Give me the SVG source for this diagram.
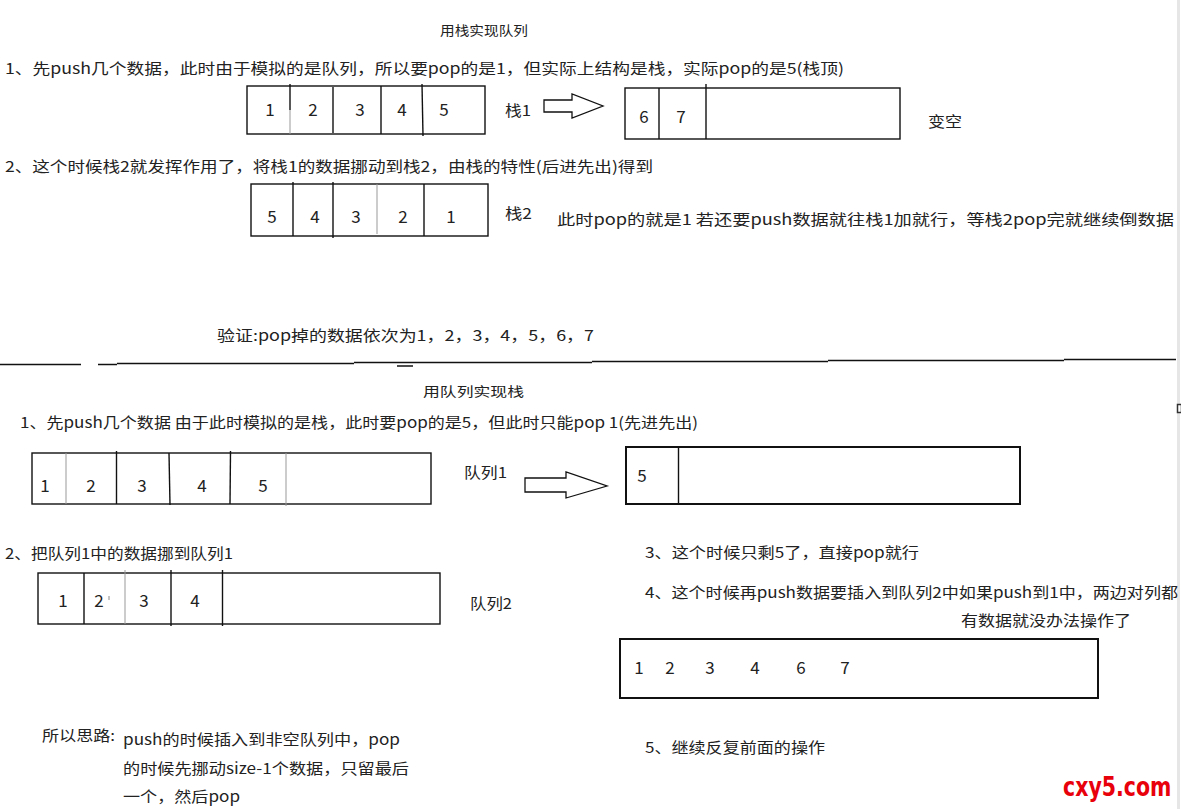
<svg xmlns="http://www.w3.org/2000/svg" width="1181" height="809" viewBox="0 0 1181 809">
<style>
.t{font-family:'Noto Sans CJK SC','Noto Sans',sans-serif;font-size:15px;fill:#222}
.s{font-size:13px}
.d{font-family:'Noto Sans CJK SC','Noto Sans',sans-serif;font-size:17px;fill:#222;text-anchor:middle}
.box{fill:none;stroke:#111;stroke-width:1.4}
.bx2{fill:none;stroke:#111;stroke-width:2}
.dv{stroke:#111;stroke-width:1.4}
.dg{stroke:#999;stroke-width:1}
.sep{stroke:#111;stroke-width:1.5}
.arr{fill:#fff;stroke:#111;stroke-width:1.3;stroke-linejoin:miter}
.wm{font-family:'DejaVu Sans','Liberation Sans',sans-serif;font-weight:bold;font-size:27px;fill:#e8000b}
</style>
<rect width="1181" height="809" fill="#fff"/>
<line x1="1178.5" y1="0" x2="1178.5" y2="809" stroke="#e6e6e6" stroke-width="3"/>
<rect x="1177.5" y="404.5" width="4" height="8" fill="#fff" stroke="#333" stroke-width="1.5"/>

<!-- top section -->
<g id="title-top"><text class="t s" x="440" y="35" textLength="88" lengthAdjust="spacingAndGlyphs">用栈实现队列</text></g>
<g id="step1-top"><text class="t" x="5" y="74" textLength="839" lengthAdjust="spacingAndGlyphs">1、先push几个数据，此时由于模拟的是队列，所以要pop的是1，但实际上结构是栈，实际pop的是5(栈顶)</text></g>

<g id="stack1">
<rect class="box" x="247" y="86" width="238" height="48"/>
<line class="dv" x1="290" y1="84" x2="290" y2="110"/><line class="dg" x1="290" y1="110" x2="290" y2="134"/>
<line class="dv" x1="333" y1="87" x2="333" y2="133"/>
<line class="dv" x1="381" y1="86" x2="381" y2="134"/>
<line class="dv" x1="422" y1="84" x2="423" y2="136"/>
<text class="d" x="270" y="116">1</text><text class="d" x="313" y="116">2</text><text class="d" x="360" y="116">3</text><text class="d" x="402" y="116">4</text><text class="d" x="444" y="116">5</text>
<text class="t" x="505" y="116" textLength="26" lengthAdjust="spacingAndGlyphs">栈1</text>
</g>

<g id="stack1-after">
<rect class="box" x="625" y="88" width="275" height="51"/>
<line class="dv" x1="659" y1="88" x2="659" y2="139"/>
<line class="dv" x1="706" y1="84" x2="706" y2="139"/>
<text class="d" x="644" y="123">6</text><text class="d" x="681" y="123">7</text>
<text class="t" x="928" y="127" textLength="34" lengthAdjust="spacingAndGlyphs">变空</text>
</g>

<g id="step2-top"><text class="t" x="5" y="172" textLength="648" lengthAdjust="spacingAndGlyphs">2、这个时候栈2就发挥作用了，将栈1的数据挪动到栈2，由栈的特性(后进先出)得到</text></g>

<g id="stack2">
<rect class="box" x="251" y="184" width="237" height="52"/>
<line class="dv" x1="293" y1="182" x2="293" y2="236"/>
<line class="dv" x1="333" y1="182" x2="333" y2="238"/>
<line class="dg" x1="377" y1="184" x2="377" y2="234"/>
<line class="dv" x1="424" y1="184" x2="424" y2="236"/>
<text class="d" x="272" y="223">5</text><text class="d" x="315" y="223">4</text><text class="d" x="356" y="223">3</text><text class="d" x="403" y="223">2</text><text class="d" x="451" y="223">1</text>
<text class="t" x="505" y="219" textLength="27" lengthAdjust="spacingAndGlyphs">栈2</text>
</g>
<g id="note-top"><text class="t" x="557" y="225" textLength="617" lengthAdjust="spacingAndGlyphs">此时pop的就是1  若还要push数据就往栈1加就行，等栈2pop完就继续倒数据</text></g>
<g id="verify"><text class="t" x="217" y="341" font-size="16" textLength="377" lengthAdjust="spacingAndGlyphs">验证:pop掉的数据依次为1，2，3，4，5，6，7</text></g>

<g id="separator">
<line class="sep" x1="0" y1="364.5" x2="81" y2="364.5"/>
<line class="sep" x1="98" y1="364.5" x2="117" y2="364.5"/>
<line class="sep" x1="117" y1="363.5" x2="354" y2="363.5"/>
<line class="sep" x1="354" y1="362.5" x2="592" y2="362.5"/>
<line class="sep" x1="397" y1="366" x2="413" y2="366"/>
<line class="sep" x1="592" y1="361.5" x2="828" y2="361.5"/>
<line class="sep" x1="828" y1="360.5" x2="1064" y2="360.5"/>
<line class="sep" x1="1064" y1="359.5" x2="1176" y2="359.5"/>
</g>

<!-- bottom section -->
<g id="title-bottom"><text class="t s" x="423" y="396" textLength="101" lengthAdjust="spacingAndGlyphs">用队列实现栈</text></g>
<g id="step1-bottom"><text class="t" x="20" y="428" textLength="678" lengthAdjust="spacingAndGlyphs">1、先push几个数据 由于此时模拟的是栈，此时要pop的是5，但此时只能pop 1(先进先出)</text></g>

<g id="queue1">
<rect class="box" x="32" y="453" width="399" height="51"/>
<line class="dg" x1="66" y1="453" x2="66" y2="504"/>
<line class="dv" x1="116.5" y1="451" x2="116.5" y2="504"/>
<line class="dv" x1="169" y1="453" x2="170" y2="505"/>
<line class="dv" x1="230.5" y1="451" x2="230" y2="504"/>
<line class="dg" x1="286" y1="453" x2="286" y2="506"/>
<text class="d" x="45" y="492">1</text><text class="d" x="91" y="492">2</text><text class="d" x="142" y="492">3</text><text class="d" x="202" y="492">4</text><text class="d" x="263" y="492">5</text>
<text class="t" x="464" y="478" textLength="43" lengthAdjust="spacingAndGlyphs">队列1</text>
</g>

<g id="queue1-after">
<rect class="bx2" x="626" y="447" width="394" height="57"/>
<line class="dv" x1="678.5" y1="447" x2="678.5" y2="505"/>
<text class="d" x="642" y="482">5</text>
</g>

<g id="step2-bottom"><text class="t" x="5" y="559" textLength="228" lengthAdjust="spacingAndGlyphs">2、把队列1中的数据挪到队列1</text></g>

<g id="queue2">
<rect class="box" x="38" y="573" width="402" height="51"/>
<line class="dv" x1="84" y1="573" x2="84" y2="624"/>
<line class="dg" x1="125" y1="570" x2="125" y2="624"/>
<line class="dv" x1="171" y1="570" x2="171" y2="626"/>
<line class="dv" x1="222.5" y1="570" x2="222.5" y2="626"/>
<line x1="109" y1="596" x2="109" y2="600" stroke="#888" stroke-width="1"/>
<text class="d" x="63" y="607">1</text><text class="d" x="99" y="607">2</text><text class="d" x="144" y="607">3</text><text class="d" x="195" y="607">4</text>
<text class="t" x="470" y="609" textLength="42" lengthAdjust="spacingAndGlyphs">队列2</text>
</g>

<g id="summary">
<text class="t" x="42" y="741" textLength="73" lengthAdjust="spacingAndGlyphs">所以思路:</text>
<text class="t" x="123" y="745" textLength="277" lengthAdjust="spacingAndGlyphs">push的时候插入到非空队列中，pop</text>
<text class="t" x="123" y="774" textLength="286" lengthAdjust="spacingAndGlyphs">的时候先挪动size-1个数据，只留最后</text>
<text class="t" x="123" y="802" textLength="117" lengthAdjust="spacingAndGlyphs">一个，然后pop</text>
</g>

<g id="step3-bottom"><text class="t" x="645" y="558" textLength="274" lengthAdjust="spacingAndGlyphs">3、这个时候只剩5了，直接pop就行</text></g>
<g id="step4-bottom">
<text class="t" x="645" y="598" textLength="533" lengthAdjust="spacingAndGlyphs">4、这个时候再push数据要插入到队列2中如果push到1中，两边对列都</text>
<text class="t" x="961" y="626" textLength="170" lengthAdjust="spacingAndGlyphs">有数据就没办法操作了</text>
</g>

<g id="queue-merged">
<rect class="bx2" x="620" y="639" width="478" height="59"/>
<text class="d" x="639" y="674">1</text><text class="d" x="670" y="674">2</text><text class="d" x="710" y="674">3</text><text class="d" x="755" y="674">4</text><text class="d" x="801" y="674">6</text><text class="d" x="845" y="674">7</text>
</g>

<g id="step5-bottom"><text class="t" x="645" y="753" textLength="180" lengthAdjust="spacingAndGlyphs">5、继续反复前面的操作</text></g>

<g id="connectors">
<polygon class="arr" points="544,100 572,100 572,94 603,106 572,118 572,112 544,112"/>
<polygon class="arr" points="525,478 566,478 566,472 607,486 566,498 566,492 525,492"/>
</g>

<g transform="translate(1063 796) scale(0.76 1)"><text class="wm" x="0" y="0">cxy5.com</text></g>
</svg>
